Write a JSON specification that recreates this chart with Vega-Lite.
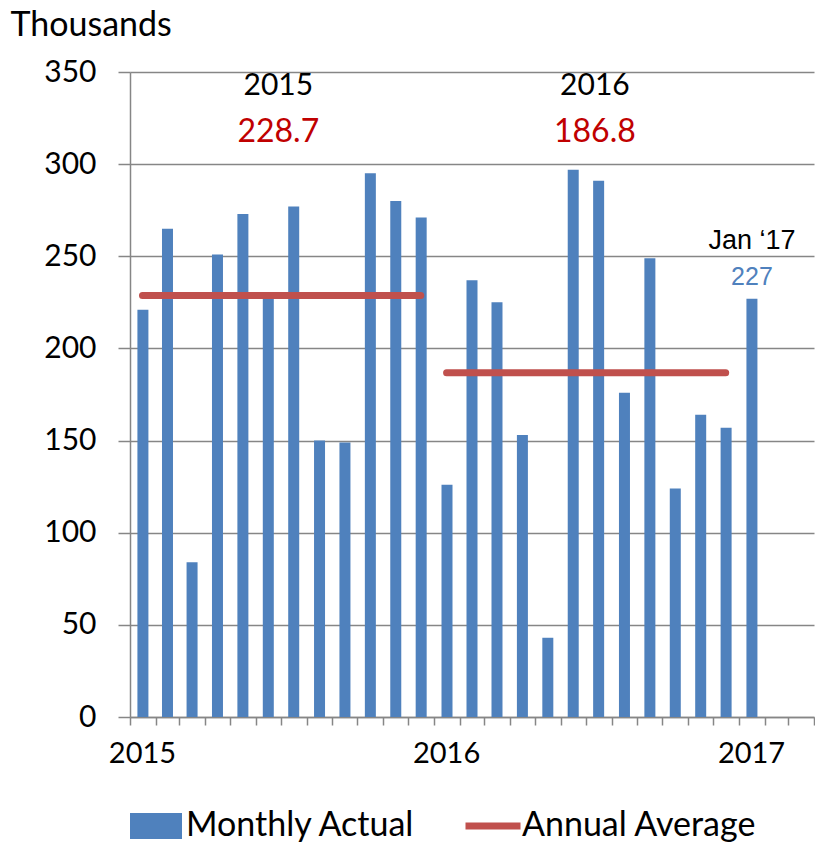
{
  "$schema": "https://vega.github.io/schema/vega-lite/v6.json",
  "width": 684,
  "height": 645,
  "autosize": "none",
  "padding": {"left": 130, "top": 72, "right": 1, "bottom": 125},
  "background": "white",
  "config": {"font": "Lato", "view": {"stroke": null}},
  "datasets": {
    "monthly": [
      {"date": "2015-01-01", "value": 221},
      {"date": "2015-02-01", "value": 265},
      {"date": "2015-03-01", "value": 84},
      {"date": "2015-04-01", "value": 251},
      {"date": "2015-05-01", "value": 273},
      {"date": "2015-06-01", "value": 228},
      {"date": "2015-07-01", "value": 277},
      {"date": "2015-08-01", "value": 150},
      {"date": "2015-09-01", "value": 149},
      {"date": "2015-10-01", "value": 295},
      {"date": "2015-11-01", "value": 280},
      {"date": "2015-12-01", "value": 271},
      {"date": "2016-01-01", "value": 126},
      {"date": "2016-02-01", "value": 237},
      {"date": "2016-03-01", "value": 225},
      {"date": "2016-04-01", "value": 153},
      {"date": "2016-05-01", "value": 43},
      {"date": "2016-06-01", "value": 297},
      {"date": "2016-07-01", "value": 291},
      {"date": "2016-08-01", "value": 176},
      {"date": "2016-09-01", "value": 249},
      {"date": "2016-10-01", "value": 124},
      {"date": "2016-11-01", "value": 164},
      {"date": "2016-12-01", "value": 157},
      {"date": "2017-01-01", "value": 227}
    ],
    "annual": [
      {"year": "2015", "start": "2015-01-16", "end": "2015-12-16", "avg": 228.7, "labelDate": "2015-06-28"},
      {"year": "2016", "start": "2016-01-16", "end": "2016-12-16", "avg": 186.8, "labelDate": "2016-07-12"}
    ]
  },
  "layer": [
    {
      "data": {"name": "monthly"},
      "mark": {"type": "bar", "width": 11},
      "encoding": {
        "x": {
          "field": "date", "type": "temporal", "timeUnit": "utcyearmonth", "bandPosition": 0.5,
          "scale": {"type": "utc", "domain": [{"year": 2015, "month": 1, "date": 1, "utc": true}, {"year": 2017, "month": 4, "date": 1, "utc": true}], "nice": false},
          "axis": {
            "title": null,
            "tickCount": {"interval": "month", "step": 1},
            "labelExpr": "utcFormat(datum.value, '%m') == '01' ? utcFormat(datum.value, '%Y') : ''",
            "labelOverlap": false, "labelFlush": false, "labelBound": false,
            "labelFontSize": 29, "labelColor": "black", "labelOffset": 12, "labelPadding": 14,
            "grid": false,
            "domainColor": "#868686", "domainWidth": 1.5,
            "tickColor": "#868686", "tickWidth": 1.5, "tickSize": 8
          }
        },
        "y": {
          "field": "value", "type": "quantitative",
          "scale": {"domain": [0, 350], "nice": false},
          "axis": {
            "title": "Thousands", "titleAngle": 0, "titleX": -120, "titleY": -37,
            "titleAlign": "left", "titleBaseline": "alphabetic", "titleFontSize": 34,
            "titleFontWeight": "normal", "titleColor": "black",
            "values": [0, 50, 100, 150, 200, 250, 300, 350],
            "grid": true, "gridColor": "#868686", "gridWidth": 1.5,
            "domainColor": "#868686", "domainWidth": 1.5,
            "tickColor": "#868686", "tickWidth": 1.5, "tickSize": 12,
            "labelFontSize": 30, "labelColor": "black", "labelPadding": 22
          }
        },
        "color": {
          "datum": "Monthly Actual", "type": "nominal",
          "scale": {"range": ["#4F81BD"]},
          "legend": {
            "title": null, "orient": "none", "legendX": 0, "legendY": 728,
            "symbolType": "M-1,-0.5H1V0.5H-1Z", "symbolSize": 2704,
            "symbolOpacity": 1, "symbolStrokeWidth": 0,
            "labelFontSize": 34, "labelColor": "black", "labelOffset": 4, "labelLimit": 400, "padding": 0
          }
        }
      }
    },
    {
      "data": {"name": "annual"},
      "mark": {"type": "rule", "strokeWidth": 7, "strokeCap": "round"},
      "encoding": {
        "x": {"field": "start", "type": "temporal"},
        "x2": {"field": "end"},
        "y": {"field": "avg", "type": "quantitative"},
        "stroke": {
          "datum": "Annual Average", "type": "nominal",
          "scale": {"range": ["#C0504D"]},
          "legend": {
            "title": null, "orient": "none", "legendX": 332, "legendY": 723,
            "symbolType": "stroke", "symbolSize": 3025, "symbolStrokeWidth": 7,
            "labelFontSize": 34, "labelColor": "black", "labelOffset": -2, "labelLimit": 400, "padding": 0
          }
        }
      }
    },
    {
      "data": {"name": "annual"},
      "mark": {"type": "text", "fontSize": 30, "baseline": "alphabetic", "align": "center", "color": "black", "dy": 23},
      "encoding": {
        "x": {"field": "labelDate", "type": "temporal"},
        "y": {"datum": 350, "type": "quantitative"},
        "text": {"field": "year"}
      }
    },
    {
      "data": {"name": "annual"},
      "mark": {"type": "text", "fontSize": 32, "baseline": "alphabetic", "align": "center", "color": "#C00000", "dy": 70},
      "encoding": {
        "x": {"field": "labelDate", "type": "temporal"},
        "y": {"datum": 350, "type": "quantitative"},
        "text": {"field": "avg", "type": "quantitative", "format": ".1f"}
      }
    },
    {
      "data": {"name": "monthly"},
      "transform": [{"filter": "utcyear(datum.date) == 2017"}],
      "mark": {"type": "text", "font": "Liberation Sans", "fontSize": 27, "baseline": "alphabetic", "align": "center", "color": "black", "dy": -50},
      "encoding": {
        "x": {"field": "date", "type": "temporal", "timeUnit": "utcyearmonth", "bandPosition": 0.5},
        "y": {"field": "value", "type": "quantitative"},
        "text": {"value": "Jan ‘17"}
      }
    },
    {
      "data": {"name": "monthly"},
      "transform": [{"filter": "utcyear(datum.date) == 2017"}],
      "mark": {"type": "text", "font": "Liberation Sans", "fontSize": 25, "baseline": "alphabetic", "align": "center", "color": "#4F81BD", "dy": -14},
      "encoding": {
        "x": {"field": "date", "type": "temporal", "timeUnit": "utcyearmonth", "bandPosition": 0.5},
        "y": {"field": "value", "type": "quantitative"},
        "text": {"field": "value", "type": "quantitative"}
      }
    }
  ]
}
